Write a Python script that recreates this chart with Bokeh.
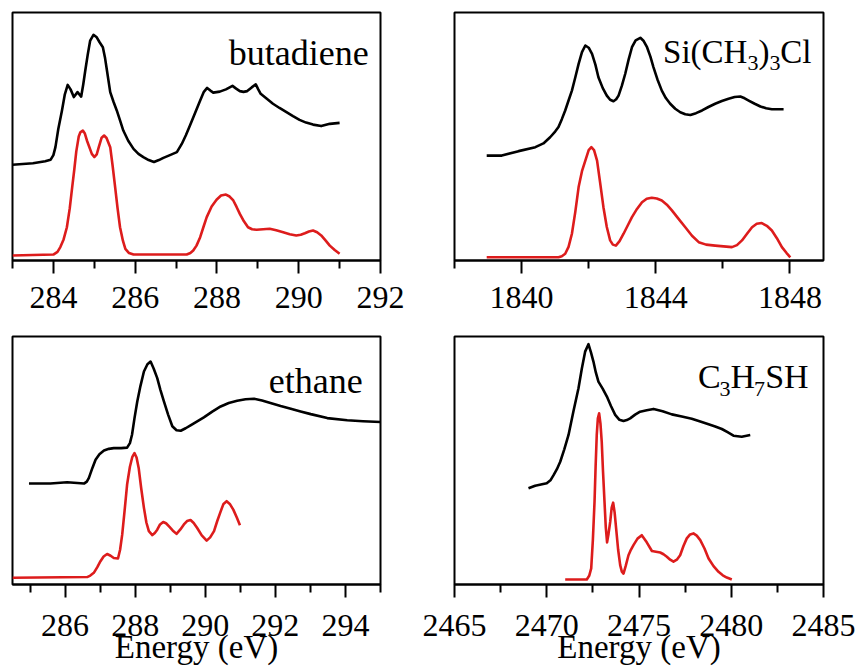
from bokeh.plotting import figure
from bokeh.models import Range1d, FixedTicker, Label
from bokeh.layouts import column, row
from bokeh.embed import file_html
from bokeh.resources import INLINE

# ---------------- data ----------------
# butadiene (C 1s)
but_E_exp = [283.0, 283.5, 283.8, 283.93, 284.0, 284.05, 284.12, 284.21, 284.28, 284.35, 284.42, 284.50,
             284.59, 284.68, 284.73, 284.78, 284.84, 284.90, 284.98, 285.06, 285.13, 285.21, 285.26,
             285.31, 285.39, 285.47, 285.55, 285.63, 285.71, 285.83, 285.96, 286.08, 286.20, 286.33,
             286.46, 286.58, 286.69, 286.85, 287.02, 287.14, 287.24, 287.34, 287.47, 287.59, 287.68,
             287.76, 287.84, 287.91, 288.07, 288.22, 288.38, 288.47, 288.56, 288.65, 288.74, 288.85,
             288.95, 289.01, 289.07, 289.22, 289.37, 289.53, 289.70, 289.86, 290.02, 290.18, 290.35,
             290.55, 290.76, 291.0]
but_I_exp = [0.386, 0.392, 0.400, 0.406, 0.425, 0.457, 0.530, 0.605, 0.670, 0.708, 0.690, 0.659,
             0.679, 0.661, 0.710, 0.766, 0.830, 0.887, 0.910, 0.900, 0.880, 0.860, 0.820,
             0.766, 0.679, 0.640, 0.605, 0.565, 0.524, 0.483, 0.450, 0.430, 0.417, 0.405,
             0.397, 0.405, 0.414, 0.425, 0.437, 0.470, 0.505, 0.544, 0.597, 0.645, 0.680,
             0.696, 0.685, 0.677, 0.681, 0.690, 0.704, 0.693, 0.683, 0.680, 0.683, 0.698,
             0.710, 0.690, 0.672, 0.652, 0.632, 0.615, 0.598, 0.582, 0.567, 0.556, 0.548,
             0.542, 0.551, 0.555]
but_E_th = [283.0, 284.0, 284.10, 284.17, 284.25, 284.33, 284.40, 284.46, 284.51, 284.56, 284.62, 284.66,
            284.72, 284.77, 284.82, 284.94, 285.0, 285.06, 285.11, 285.18, 285.24, 285.30, 285.39,
            285.45, 285.51, 285.57, 285.63, 285.70, 285.76, 285.85, 285.96, 287.26, 287.35, 287.42,
            287.50, 287.59, 287.67, 287.75, 287.87, 287.99, 288.10, 288.22, 288.31, 288.40, 288.48,
            288.56, 288.66, 288.76, 288.86, 288.97, 289.13, 289.29, 289.45, 289.62, 289.78, 289.94,
            290.05, 290.15, 290.25, 290.35, 290.45, 290.55, 290.66, 290.76, 290.88, 291.0]
but_I_th = [0.020, 0.024, 0.035, 0.054, 0.085, 0.134, 0.210, 0.296, 0.365, 0.440, 0.500, 0.517,
            0.524, 0.512, 0.484, 0.430, 0.417, 0.428, 0.457, 0.495, 0.504, 0.494, 0.457,
            0.380, 0.296, 0.210, 0.134, 0.080, 0.047, 0.030, 0.024, 0.024, 0.030, 0.040,
            0.060, 0.094, 0.135, 0.175, 0.218, 0.245, 0.262, 0.266, 0.258, 0.242, 0.216,
            0.188, 0.158, 0.134, 0.126, 0.124, 0.126, 0.128, 0.122, 0.114, 0.106, 0.101,
            0.104, 0.110, 0.117, 0.121, 0.114, 0.101, 0.080, 0.060, 0.042, 0.027]

# Si(CH3)3Cl (Cl 1s)
si_E_exp = [1838.96, 1839.41, 1839.91, 1840.41, 1840.65, 1840.85, 1841.00, 1841.10, 1841.20, 1841.30,
            1841.40, 1841.50, 1841.60, 1841.70, 1841.80, 1841.90, 1842.00, 1842.10, 1842.20, 1842.29,
            1842.42, 1842.54, 1842.64, 1842.74, 1842.82, 1842.89, 1842.99, 1843.09, 1843.19, 1843.29,
            1843.40, 1843.54, 1843.64, 1843.74, 1843.84, 1843.93, 1844.05, 1844.18, 1844.30, 1844.43,
            1844.58, 1844.73, 1844.88, 1845.03, 1845.20, 1845.38, 1845.57, 1845.77, 1845.97, 1846.17,
            1846.35, 1846.52, 1846.65, 1846.77, 1846.95, 1847.12, 1847.29, 1847.46, 1847.81]
si_I_exp = [0.423, 0.423, 0.441, 0.457, 0.472, 0.497, 0.520, 0.538, 0.570, 0.605,
            0.645, 0.685, 0.738, 0.793, 0.840, 0.867, 0.858, 0.833, 0.790, 0.739,
            0.695, 0.665, 0.648, 0.642, 0.650, 0.665, 0.705, 0.753, 0.810, 0.860,
            0.888, 0.898, 0.885, 0.860, 0.822, 0.780, 0.730, 0.685, 0.655, 0.632,
            0.612, 0.598, 0.590, 0.587, 0.594, 0.605, 0.619, 0.632, 0.643, 0.652,
            0.659, 0.661, 0.654, 0.645, 0.632, 0.621, 0.614, 0.610, 0.610]
si_E_th = [1838.96, 1841.10, 1841.20, 1841.30, 1841.40, 1841.50, 1841.60, 1841.70, 1841.80, 1841.90,
           1842.00, 1842.08, 1842.16, 1842.25, 1842.34, 1842.44, 1842.54, 1842.64, 1842.72, 1842.81,
           1842.92, 1843.04, 1843.16, 1843.29, 1843.44, 1843.59, 1843.73, 1843.88, 1844.03, 1844.18,
           1844.33, 1844.48, 1844.68, 1844.88, 1845.08, 1845.28, 1845.50, 1845.77, 1846.02, 1846.27,
           1846.42, 1846.57, 1846.72, 1846.87, 1847.01, 1847.16, 1847.31, 1847.46, 1847.61, 1847.76,
           1847.90, 1848.01]
si_I_th = [0.013, 0.013, 0.017, 0.027, 0.055, 0.108, 0.195, 0.296, 0.360, 0.403,
           0.445, 0.457, 0.445, 0.403, 0.315, 0.215, 0.135, 0.081, 0.064, 0.060,
           0.078, 0.108, 0.140, 0.175, 0.208, 0.235, 0.249, 0.253, 0.250, 0.242,
           0.225, 0.202, 0.168, 0.134, 0.100, 0.074, 0.064, 0.060, 0.057, 0.054,
           0.062, 0.081, 0.108, 0.134, 0.148, 0.151, 0.140, 0.121, 0.090, 0.054,
           0.030, 0.013]

# ethane (C 1s)
eth_E_exp = [284.97, 285.58, 286.06, 286.54, 286.62, 286.68, 286.78, 286.87, 286.98, 287.11, 287.25,
             287.39, 287.60, 287.77, 287.85, 287.91, 287.98, 288.06, 288.15, 288.25, 288.35, 288.44,
             288.53, 288.63, 288.72, 288.82, 288.94, 289.06, 289.18, 289.30, 289.44, 289.58, 289.77,
             289.96, 290.20, 290.44, 290.67, 290.91, 291.15, 291.39, 291.62, 291.86, 292.15, 292.44,
             292.72, 293.01, 293.48, 294.05, 294.5, 295.0]
eth_I_exp = [0.407, 0.407, 0.412, 0.407, 0.415, 0.430, 0.470, 0.503, 0.525, 0.540, 0.547,
             0.550, 0.550, 0.552, 0.570, 0.604, 0.670, 0.738, 0.800, 0.859, 0.888, 0.899,
             0.870, 0.832, 0.785, 0.738, 0.685, 0.638, 0.622, 0.620, 0.630, 0.642, 0.658,
             0.674, 0.697, 0.718, 0.732, 0.741, 0.747, 0.749, 0.742, 0.732, 0.720, 0.709,
             0.698, 0.687, 0.671, 0.662, 0.658, 0.655]
eth_E_th = [284.5, 286.63, 286.72, 286.82, 286.92, 287.01, 287.10, 287.20, 287.30, 287.39, 287.51,
            287.57, 287.63, 287.70, 287.77, 287.85, 287.92, 287.98, 288.04, 288.10, 288.17, 288.25,
            288.32, 288.39, 288.49, 288.56, 288.63, 288.71, 288.80, 288.88, 288.96, 289.07, 289.18,
            289.29, 289.39, 289.48, 289.58, 289.67, 289.77, 289.90, 290.04, 290.14, 290.25, 290.34,
            290.44, 290.52, 290.61, 290.70, 290.80, 290.90, 290.99]
eth_I_th = [0.027, 0.030, 0.036, 0.047, 0.070, 0.094, 0.113, 0.123, 0.116, 0.107, 0.105,
            0.140, 0.201, 0.300, 0.403, 0.475, 0.515, 0.530, 0.512, 0.470, 0.390, 0.309,
            0.250, 0.215, 0.199, 0.208, 0.221, 0.242, 0.252, 0.247, 0.235, 0.218, 0.204,
            0.222, 0.242, 0.256, 0.260, 0.248, 0.228, 0.198, 0.177, 0.190, 0.215, 0.255,
            0.295, 0.325, 0.336, 0.325, 0.302, 0.270, 0.239]

# C3H7SH (S 1s)
pr_E_exp = [2469.01, 2469.37, 2470.0, 2470.20, 2470.37, 2470.55, 2470.73, 2470.95, 2471.18, 2471.45,
            2471.72, 2471.90, 2472.08, 2472.26, 2472.40, 2472.53, 2472.66, 2472.80, 2473.03, 2473.26,
            2473.48, 2473.71, 2473.94, 2474.16, 2474.34, 2474.52, 2474.79, 2475.06, 2475.42, 2475.79,
            2476.28, 2476.78, 2477.32, 2477.86, 2478.32, 2478.77, 2479.13, 2479.49, 2479.80, 2480.12,
            2480.57, 2481.03]
pr_I_exp = [0.388, 0.398, 0.408, 0.420, 0.441, 0.465, 0.495, 0.545, 0.603, 0.700,
            0.791, 0.870, 0.939, 0.969, 0.935, 0.899, 0.855, 0.818, 0.790, 0.758,
            0.720, 0.684, 0.664, 0.659, 0.663, 0.670, 0.685, 0.697, 0.703, 0.708,
            0.699, 0.686, 0.677, 0.668, 0.657, 0.646, 0.637, 0.627, 0.614, 0.600,
            0.596, 0.603]
pr_E_th = [2471.0, 2472.17, 2472.30, 2472.41, 2472.50, 2472.59, 2472.65, 2472.71, 2472.77, 2472.84,
           2472.91, 2472.98, 2473.05, 2473.13, 2473.20, 2473.27, 2473.35, 2473.44, 2473.52, 2473.60,
           2473.68, 2473.76, 2473.87, 2473.98, 2474.07, 2474.16, 2474.28, 2474.43, 2474.56, 2474.70,
           2474.92, 2475.15, 2475.42, 2475.70, 2475.92, 2476.15, 2476.33, 2476.51, 2476.69, 2476.87,
           2477.05, 2477.23, 2477.41, 2477.59, 2477.77, 2477.95, 2478.13, 2478.32, 2478.55, 2478.77,
           2479.04, 2479.31, 2479.54, 2479.76, 2480.03]
pr_I_th = [0.020, 0.020, 0.035, 0.065, 0.180, 0.334, 0.480, 0.603, 0.670, 0.690,
           0.650, 0.576, 0.455, 0.334, 0.230, 0.170, 0.205, 0.253, 0.310, 0.330,
           0.290, 0.226, 0.140, 0.078, 0.052, 0.044, 0.075, 0.118, 0.140, 0.159,
           0.185, 0.199, 0.170, 0.135, 0.132, 0.129, 0.122, 0.112, 0.100, 0.092,
           0.100, 0.118, 0.155, 0.186, 0.202, 0.206, 0.197, 0.179, 0.145, 0.105,
           0.074, 0.051, 0.037, 0.028, 0.020]

# axis ticks
but_ticks, but_minor = [284, 286, 288, 290, 292], [283, 285, 287, 289, 291]
si_ticks, si_minor = [1840, 1844, 1848], [1838, 1842, 1846]
eth_ticks, eth_minor = [286, 288, 290, 292, 294], [285, 287, 289, 291, 293, 295]
pr_ticks, pr_minor = [2465, 2470, 2475, 2480, 2485], [2467.5, 2472.5, 2477.5, 2482.5]

x_label = "Energy (eV)"

FONT = "Liberation Serif"
BLACK = "#000000"
RED = "#dd1c1c"


def make_fig(width, height, xr, ticks, minor, mbl, mbr, mbt, mbb, standoff, xlabel=None):
    p = figure(width=width, height=height, x_range=Range1d(*xr), y_range=Range1d(0, 1),
               output_backend="svg", toolbar_location=None, y_axis_location=None,
               min_border_left=mbl, min_border_right=mbr, min_border_top=mbt, min_border_bottom=mbb)
    p.xgrid.visible = False
    p.ygrid.visible = False
    p.outline_line_color = "black"
    p.outline_line_width = 2
    p.outline_line_alpha = 1
    p.background_fill_color = "white"
    p.border_fill_color = "white"
    for ax in p.xaxis:
        ax.ticker = FixedTicker(ticks=ticks, minor_ticks=minor)
        ax.axis_line_width = 2
        ax.axis_line_color = "black"
        ax.major_tick_out = 13
        ax.major_tick_in = 0
        ax.minor_tick_out = 8
        ax.minor_tick_in = 0
        ax.major_tick_line_width = 2
        ax.minor_tick_line_width = 2
        ax.major_tick_line_color = "black"
        ax.minor_tick_line_color = "black"
        ax.major_label_text_font = FONT
        ax.major_label_text_font_style = "normal"
        ax.major_label_text_font_size = "32px"
        ax.major_label_text_color = "black"
        ax.major_label_standoff = standoff
        if xlabel:
            ax.axis_label = xlabel
            ax.axis_label_text_font = FONT
            ax.axis_label_text_font_size = "33px"
            ax.axis_label_text_font_style = "normal"
            ax.axis_label_text_color = "black"
            ax.axis_label_standoff = -10
    return p


def add_pieces(p, x, y, pieces):
    # pieces drawn right-to-left from anchor (x, y): (text, size px, vertical shift px, advance px)
    off = 0
    for txt, size, dy, w in pieces:
        p.add_layout(Label(x=x, y=y, x_offset=off, y_offset=dy, text=txt, text_align="right",
                           text_baseline="alphabetic", text_font=FONT,
                           text_font_size=f"{size}px", text_color="black"))
        off -= w


LW = 2.6

p1 = make_fig(412, 326, (283, 292), but_ticks, but_minor, 12, 32, 12, 66, 13)
p1.line(but_E_exp, but_I_exp, line_color=BLACK, line_width=LW, line_join="round")
p1.line(but_E_th, but_I_th, line_color=RED, line_width=LW, line_join="round")
p1.add_layout(Label(x=291.71, y=0.835, text="butadiene", text_align="right", text_baseline="alphabetic",
                    text_font=FONT, text_font_size="36px", text_color="black"))

p2 = make_fig(446, 326, (1838, 1849), si_ticks, si_minor, 42, 35, 12, 66, 13)
p2.line(si_E_exp, si_I_exp, line_color=BLACK, line_width=LW, line_join="round")
p2.line(si_E_th, si_I_th, line_color=RED, line_width=LW, line_join="round")
add_pieces(p2, 1848.64, 0.84, [("Cl", 33, 0, 31), ("3", 22, -11, 11), (")", 33, 0, 11),
                                ("3", 22, -11, 11), ("Si(CH", 33, 0, 84)])

p3 = make_fig(412, 343, (284.5, 295), eth_ticks, eth_minor, 12, 32, 10, 85, 17, x_label)
p3.line(eth_E_exp, eth_I_exp, line_color=BLACK, line_width=LW, line_join="round")
p3.line(eth_E_th, eth_I_th, line_color=RED, line_width=LW, line_join="round")
p3.add_layout(Label(x=294.49, y=0.82, text="ethane", text_align="right", text_baseline="alphabetic",
                    text_font=FONT, text_font_size="36px", text_color="black"))

p4 = make_fig(446, 343, (2465, 2485), pr_ticks, pr_minor, 42, 35, 10, 85, 17, x_label)
p4.line(pr_E_exp, pr_I_exp, line_color=BLACK, line_width=LW, line_join="round")
p4.line(pr_E_th, pr_I_th, line_color=RED, line_width=LW, line_join="round")
add_pieces(p4, 2484.19, 0.839, [("H", 34, 0, 24.5), ("S", 34, 0, 19), ("7", 22, -13, 10),
                                 ("H", 34, 0, 24.5), ("3", 22, -13, 10), ("C", 34, 0, 22)])

layout = column(row(p1, p2), row(p3, p4))
open("out.html", "w").write(file_html(layout, INLINE))
